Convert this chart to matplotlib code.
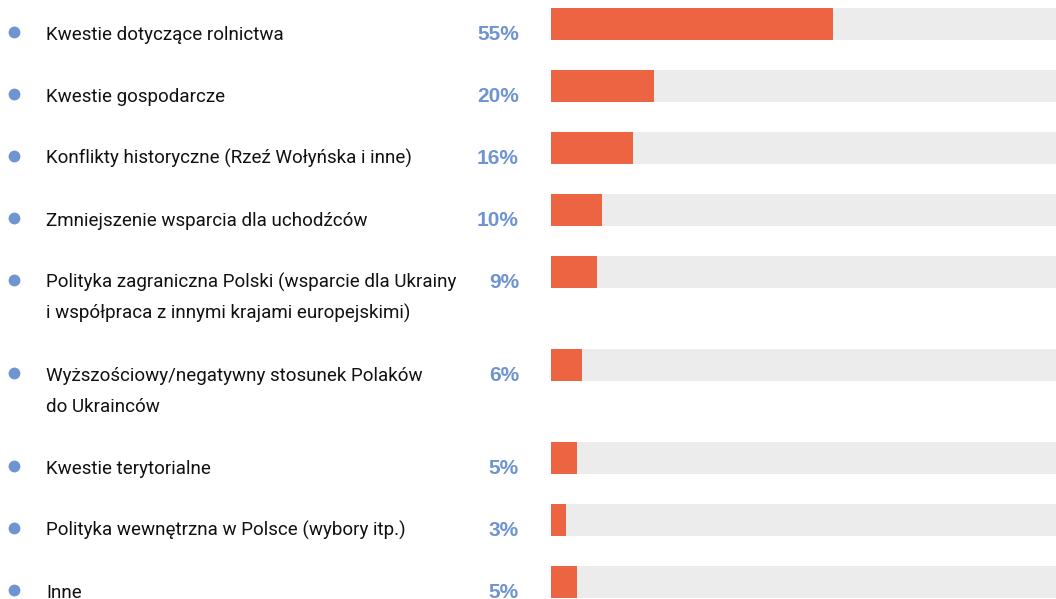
import matplotlib.pyplot as plt
from matplotlib import transforms

# Data
labels = [
    "Kwestie dotyczące rolnictwa",
    "Kwestie gospodarcze",
    "Konflikty historyczne (Rzeź Wołyńska i inne)",
    "Zmniejszenie wsparcia dla uchodźców",
    "Polityka zagraniczna Polski (wsparcie dla Ukrainy\ni współpraca z innymi krajami europejskimi)",
    "Wyższościowy/negatywny stosunek Polaków\ndo Ukrainców",
    "Kwestie terytorialne",
    "Polityka wewnętrzna w Polsce (wybory itp.)",
    "Inne",
]
values = [55, 20, 16, 10, 9, 6, 5, 3, 5]

orange = "#EC6441"
grey = "#ECECEC"
blue = "#6E94D1"

W, H = 1056, 599
fig = plt.figure(figsize=(W / 100, H / 100), dpi=100)

# bar area in pixels: x 551..1056, rows laid out top-down
ax = fig.add_axes([551 / W, 0, 505 / W, 1])
xmax = 505 / 5.13
ax.set_xlim(0, xmax)
ax.set_ylim(H, 0)
ax.axis("off")

bar_h = 32
row_gap = 62
line_gap = 31

trans = transforms.blended_transform_factory(fig.transFigure, ax.transData)

top = 8
for lab, v in zip(labels, values):
    nlines = lab.count("\n") + 1
    ax.barh(top + bar_h / 2, xmax, height=bar_h, color=grey, left=0)
    ax.barh(top + bar_h / 2, v, height=bar_h, color=orange, left=0)
    base = top + bar_h
    ax.plot([14 / W], [base - 8], marker="o", ms=7.5, color=blue,
            transform=trans, clip_on=False)
    for i, line in enumerate(lab.split("\n")):
        ax.text(46 / W, base + i * line_gap, line, transform=trans,
                fontsize=13.5, family="Roboto", color="#111111",
                va="baseline", ha="left")
    ax.text(519 / W, base, f"{v}%", transform=trans, fontsize=15,
            family="Liberation Sans", fontweight="bold", color=blue,
            va="baseline", ha="right")
    top += row_gap + (nlines - 1) * line_gap

fig.savefig("out.png", dpi=100)
